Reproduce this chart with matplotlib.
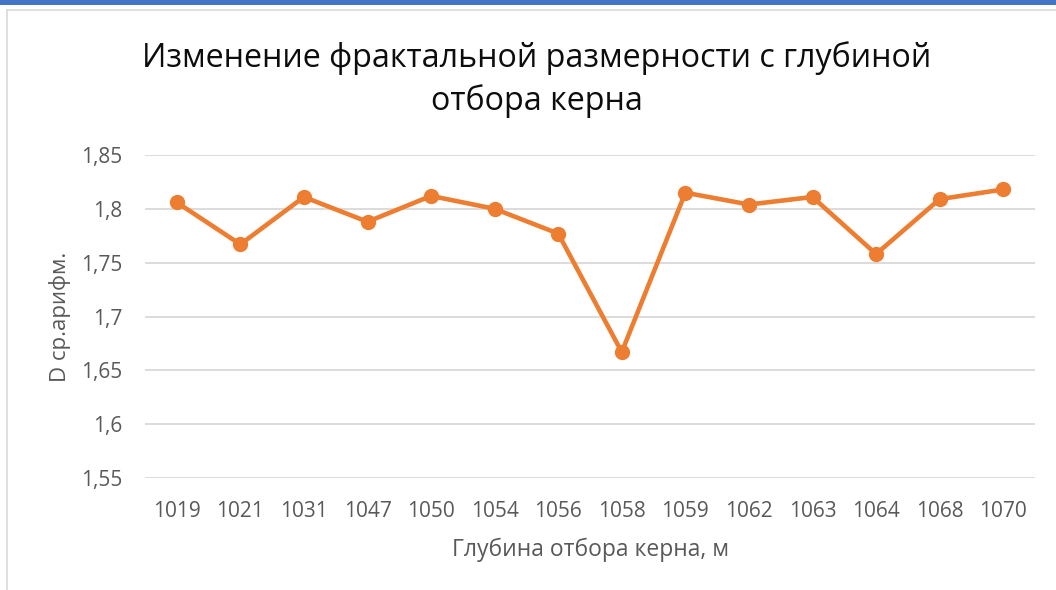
import matplotlib
matplotlib.use("Agg")
import matplotlib.pyplot as plt
from matplotlib.patches import Rectangle
from matplotlib.lines import Line2D

depths = ["1019", "1021", "1031", "1047", "1050", "1054", "1056", "1058",
          "1059", "1062", "1063", "1064", "1068", "1070"]
d_mean = [1.806, 1.767, 1.811, 1.788, 1.812, 1.800, 1.777, 1.667,
          1.815, 1.804, 1.811, 1.758, 1.809, 1.818]
y_ticks = [1.55, 1.6, 1.65, 1.7, 1.75, 1.8, 1.85]
y_tick_labels = ["1,55", "1,6", "1,65", "1,7", "1,75", "1,8", "1,85"]

plt.rcParams['font.family'] = ['Open Sans', 'DejaVu Sans']

W, H = 1056, 590
fig = plt.figure(figsize=(W / 100, H / 100), dpi=100)
fig.patch.set_facecolor('white')

# top blue bar and chart frame
fig.patches.append(Rectangle((0, 1 - 5 / H), 1, 5 / H, transform=fig.transFigure,
                             facecolor='#4472C4', edgecolor='none', zorder=0))
fig.lines.append(Line2D([7 / W, 7 / W], [0, 1 - 10 / H], transform=fig.transFigure,
                        color='#D9D9D9', lw=1.2))
fig.lines.append(Line2D([7 / W, 1], [1 - 10 / H, 1 - 10 / H], transform=fig.transFigure,
                        color='#D9D9D9', lw=1.2))

left, right = 145 / W, 1035 / W
bottom, top = 1 - 478 / H, 1 - 155 / H
ax = fig.add_axes([left, bottom, right - left, top - bottom])

x = list(range(len(depths)))
ax.plot(x, d_mean, color='#ED7D31', lw=3.3, marker='o', markersize=10,
        solid_joinstyle='round', zorder=3)

ax.set_xlim(-0.5, len(depths) - 0.5)
ax.set_ylim(1.55, 1.85)
ax.set_yticks(y_ticks)
ax.set_yticklabels(y_tick_labels)
ax.set_xticks(x)
ax.set_xticklabels(depths)
ax.grid(axis='y', color='#D9D9D9', lw=1.3)
ax.set_axisbelow(True)
for s in ax.spines.values():
    s.set_visible(False)
ax.tick_params(axis='both', length=0, labelsize=15, colors='#595959')
ax.tick_params(axis='y', pad=16.5)
ax.tick_params(axis='x', pad=16.5)

ax.set_xlabel("Глубина отбора керна, м", fontsize=16.5, color='#595959', labelpad=11)
ax.set_ylabel("D ср.арифм.", fontsize=16, color='#595959', labelpad=7)

fig.text(537 / W, 1 - 58 / H, "Изменение фрактальной размерности с глубиной",
         ha='center', va='center', fontsize=23.2, color='#0D0D0D')
fig.text(537 / W, 1 - 101 / H, "отбора керна",
         ha='center', va='center', fontsize=23.2, color='#0D0D0D')

fig.savefig("out.png", dpi=100, facecolor='white')
